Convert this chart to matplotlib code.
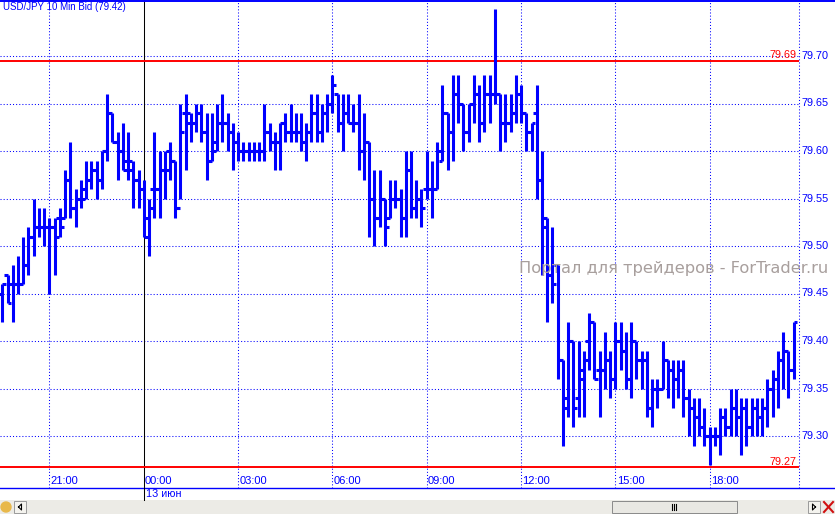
import matplotlib
matplotlib.use('Agg')
import matplotlib.pyplot as plt
from matplotlib.lines import Line2D
from matplotlib.patches import Rectangle

plt.rcParams['font.family'] = ['Liberation Sans', 'DejaVu Sans']

# USD/JPY 10 min bars (bid)
highs = [79.46, 79.47, 79.48, 79.49, 79.51, 79.52, 79.55, 79.54, 79.54, 79.53,
         79.53, 79.54, 79.58, 79.61, 79.56, 79.57, 79.59, 79.59, 79.59, 79.60,
         79.66, 79.64, 79.62, 79.63, 79.62, 79.59, 79.58, 79.57, 79.55, 79.62,
         79.60, 79.60, 79.61, 79.59, 79.65, 79.66, 79.64, 79.65, 79.65, 79.64,
         79.64, 79.65, 79.66, 79.64, 79.63, 79.62, 79.61, 79.61, 79.61, 79.61,
         79.65, 79.63, 79.62, 79.63, 79.64, 79.65, 79.64, 79.64, 79.63, 79.66,
         79.66, 79.65, 79.66, 79.68, 79.66, 79.66, 79.66, 79.65, 79.66, 79.64,
         79.61, 79.58, 79.58, 79.55, 79.57, 79.57, 79.56, 79.60, 79.60, 79.57,
         79.56, 79.60, 79.59, 79.61, 79.67, 79.64, 79.68, 79.68, 79.65, 79.65,
         79.68, 79.67, 79.68, 79.68, 79.75, 79.66, 79.66, 79.66, 79.68, 79.67,
         79.64, 79.63, 79.67, 79.60, 79.53, 79.52, 79.48, 79.38, 79.42, 79.40,
         79.40, 79.39, 79.43, 79.42, 79.39, 79.41, 79.39, 79.42, 79.42, 79.41,
         79.42, 79.40, 79.39, 79.39, 79.36, 79.36, 79.40, 79.38, 79.38, 79.38,
         79.38, 79.35, 79.34, 79.34, 79.33, 79.31, 79.31, 79.33, 79.33, 79.35,
         79.35, 79.34, 79.34, 79.34, 79.34, 79.34, 79.36, 79.37, 79.39, 79.41,
         79.39, 79.42]
lows = [79.42, 79.44, 79.42, 79.45, 79.46, 79.47, 79.49, 79.51, 79.50, 79.45,
        79.47, 79.51, 79.53, 79.53, 79.52, 79.54, 79.55, 79.56, 79.55, 79.56,
        79.59, 79.61, 79.57, 79.58, 79.57, 79.54, 79.54, 79.51, 79.49, 79.53,
        79.53, 79.55, 79.57, 79.53, 79.55, 79.58, 79.61, 79.62, 79.61, 79.57,
        79.59, 79.60, 79.61, 79.60, 79.58, 79.59, 79.59, 79.59, 79.59, 79.59,
        79.59, 79.60, 79.58, 79.58, 79.61, 79.61, 79.61, 79.60, 79.59, 79.61,
        79.61, 79.61, 79.62, 79.64, 79.62, 79.60, 79.63, 79.62, 79.58, 79.57,
        79.51, 79.50, 79.52, 79.50, 79.53, 79.54, 79.51, 79.51, 79.53, 79.53,
        79.52, 79.55, 79.53, 79.56, 79.59, 79.58, 79.59, 79.63, 79.60, 79.61,
        79.63, 79.61, 79.62, 79.63, 79.65, 79.60, 79.61, 79.62, 79.63, 79.63,
        79.60, 79.60, 79.55, 79.47, 79.42, 79.44, 79.36, 79.29, 79.32, 79.31,
        79.32, 79.32, 79.37, 79.36, 79.32, 79.35, 79.34, 79.35, 79.37, 79.35,
        79.34, 79.36, 79.35, 79.32, 79.31, 79.33, 79.35, 79.34, 79.33, 79.34,
        79.32, 79.30, 79.29, 79.30, 79.29, 79.27, 79.29, 79.28, 79.30, 79.30,
        79.30, 79.28, 79.29, 79.30, 79.30, 79.30, 79.31, 79.32, 79.33, 79.35,
        79.34, 79.36]
opens = [79.45, 79.47, 79.46, 79.46, 79.46, 79.48, 79.51, 79.52, 79.52, 79.52,
         79.52, 79.53, 79.53, 79.57, 79.54, 79.55, 79.56, 79.57, 79.58, 79.57,
         79.60, 79.64, 79.61, 79.60, 79.59, 79.58, 79.57, 79.56, 79.53, 79.56,
         79.56, 79.58, 79.60, 79.59, 79.54, 79.64, 79.63, 79.63, 79.64, 79.62,
         79.59, 79.61, 79.63, 79.63, 79.62, 79.61, 79.60, 79.60, 79.60, 79.60,
         79.60, 79.62, 79.61, 79.61, 79.63, 79.62, 79.62, 79.62, 79.61, 79.62,
         79.64, 79.62, 79.64, 79.65, 79.66, 79.63, 79.64, 79.63, 79.63, 79.60,
         79.61, 79.55, 79.53, 79.55, 79.53, 79.55, 79.55, 79.53, 79.58, 79.54,
         79.55, 79.56, 79.56, 79.56, 79.59, 79.64, 79.62, 79.66, 79.65, 79.62,
         79.65, 79.66, 79.63, 79.66, 79.66, 79.66, 79.63, 79.63, 79.64, 79.66,
         79.64, 79.62, 79.64, 79.57, 79.53, 79.47, 79.48, 79.38, 79.34, 79.40,
         79.34, 79.36, 79.40, 79.42, 79.37, 79.37, 79.38, 79.36, 79.40, 79.39,
         79.36, 79.40, 79.38, 79.38, 79.33, 79.35, 79.35, 79.38, 79.37, 79.36,
         79.37, 79.34, 79.33, 79.32, 79.31, 79.30, 79.30, 79.30, 79.32, 79.31,
         79.33, 79.32, 79.33, 79.31, 79.33, 79.32, 79.33, 79.35, 79.36, 79.38,
         79.39, 79.37]
closes = [79.46, 79.44, 79.46, 79.46, 79.48, 79.51, 79.52, 79.52, 79.52, 79.52,
          79.51, 79.52, 79.57, 79.54, 79.55, 79.55, 79.57, 79.58, 79.57, 79.60,
          79.64, 79.61, 79.60, 79.58, 79.59, 79.57, 79.56, 79.51, 79.54, 79.56,
          79.58, 79.58, 79.59, 79.54, 79.62, 79.64, 79.63, 79.64, 79.62, 79.59,
          79.60, 79.63, 79.63, 79.62, 79.61, 79.60, 79.60, 79.60, 79.60, 79.60,
          79.62, 79.61, 79.61, 79.63, 79.62, 79.62, 79.62, 79.61, 79.62, 79.64,
          79.62, 79.64, 79.65, 79.67, 79.63, 79.64, 79.63, 79.63, 79.60, 79.61,
          79.55, 79.53, 79.55, 79.52, 79.55, 79.55, 79.53, 79.58, 79.54, 79.55,
          79.54, 79.56, 79.56, 79.60, 79.64, 79.62, 79.66, 79.65, 79.62, 79.65,
          79.66, 79.63, 79.66, 79.66, 79.66, 79.63, 79.63, 79.64, 79.66, 79.64,
          79.62, 79.63, 79.57, 79.52, 79.47, 79.46, 79.38, 79.33, 79.40, 79.33,
          79.37, 79.38, 79.42, 79.36, 79.37, 79.38, 79.36, 79.40, 79.39, 79.36,
          79.40, 79.38, 79.38, 79.33, 79.35, 79.35, 79.38, 79.37, 79.36, 79.37,
          79.34, 79.33, 79.32, 79.31, 79.30, 79.30, 79.30, 79.32, 79.31, 79.33,
          79.32, 79.33, 79.31, 79.33, 79.32, 79.33, 79.35, 79.36, 79.38, 79.39,
          79.37, 79.42]

time_labels = ['21:00', '00:00', '03:00', '06:00', '09:00', '12:00', '15:00', '18:00']
time_bars = [9, 27, 45, 63, 81, 99, 117, 135]
day_bar = 27
day_label = '13 июн'
price_ticks = [79.30, 79.35, 79.40, 79.45, 79.50, 79.55, 79.60, 79.65, 79.70]
level_hi = 79.695
level_lo = 79.267
level_hi_label = '79.69'
level_lo_label = '79.27'
title = 'USD/JPY 10 Min Bid (79.42)'
watermark = 'Портал для трейдеров - ForTrader.ru'

BLUE = '#0000ff'
RED = '#ff0000'
W, H = 835, 514

fig = plt.figure(figsize=(W / 100, H / 100), dpi=100)
fig.patch.set_facecolor('white')

# main price panel: x 0..799 px, y 0..488 px
ax = fig.add_axes([0, (H - 488) / H, 799 / W, 488 / H])
ax.set_facecolor('white')
for s in ax.spines.values():
    s.set_visible(False)
ax.set_xticks([])
ax.set_yticks([])

px_per_bar = 5.24
ax.set_xlim(-2.3 / px_per_bar, (799 - 2.3) / px_per_bar)
ax.set_ylim(79.70 - 432 / 950, 79.70 + 56 / 950)

dot = (0, (1, 2))
for p in price_ticks:
    ax.axhline(p, color=BLUE, lw=0.75, ls=dot, zorder=1)
for b in time_bars:
    if b == day_bar:
        continue
    ax.axvline(b, color=BLUE, lw=0.75, ls=dot, zorder=1)
ax.axvline(day_bar, color='black', lw=0.75, zorder=1)

# support / resistance levels
ax.axhline(level_hi, color=RED, lw=1.4, zorder=2)
ax.axhline(level_lo, color=RED, lw=1.4, zorder=2)
ax.text(152.0 - 0.4, level_hi + 0.0008, level_hi_label, color=RED, fontsize=7.8,
        ha='right', va='bottom', zorder=3)
ax.text(152.0 - 0.4, level_lo + 0.0008, level_lo_label, color=RED, fontsize=7.8,
        ha='right', va='bottom', zorder=3)

# OHLC bars
x = list(range(len(highs)))
ax.vlines(x, lows, highs, color=BLUE, lw=2.2, zorder=4)
ax.hlines(opens, [i - 0.75 for i in x], x, color=BLUE, lw=2.2, zorder=4)
ax.hlines(closes, x, [i + 0.75 for i in x], color=BLUE, lw=2.2, zorder=4)

# time labels inside the bottom of the panel
tr = ax.get_xaxis_transform()
for b, lab in zip(time_bars, time_labels):
    ax.text(b + 0.25, 2 / 488, lab, transform=tr, color=BLUE, fontsize=8,
            ha='left', va='bottom', zorder=5)

# price axis labels on the right
for p in price_ticks:
    ypx = 56 + (79.70 - p) * 950
    fig.text(801 / W, 1 - ypx / H, '%.2f' % p, color=BLUE, fontsize=7.8,
             ha='left', va='center')

fig.add_artist(Line2D([799 / W, 799 / W], [1 - 488 / H, 1], color=BLUE, lw=0.75,
                      ls=dot, transform=fig.transFigure))
fig.add_artist(Line2D([0, 1], [1 - 0.5 / H, 1 - 0.5 / H], color=BLUE, lw=1.4,
                      transform=fig.transFigure))
fig.add_artist(Line2D([0, 1], [1 - 488 / H, 1 - 488 / H], color=BLUE, lw=1.0,
                      transform=fig.transFigure))
fig.add_artist(Line2D([144 / W, 144 / W], [1 - 500 / H, 1 - 488 / H], color='black',
                      lw=0.75, transform=fig.transFigure))

fig.text(3 / W, 1 - 7.5 / H, title, color=BLUE, fontsize=7, ha='left', va='center')
fig.text(146 / W, 1 - 494 / H, day_label, color=BLUE, fontsize=7.8, ha='left', va='center')
fig.text(519 / W, 1 - 268 / H, watermark, color='#a89f9d', fontsize=11.7,
         ha='left', va='center', family='DejaVu Sans')

# scrollbar strip
sb = fig.add_axes([0, 0, 1, 14 / H])
sb.set_xlim(0, W)
sb.set_ylim(0, 14)
sb.axis('off')
sb.add_patch(Rectangle((0, 0), W, 14, color='#ecebe6', zorder=0))
sb.add_patch(Rectangle((14, 1), 12, 12, facecolor='#f4f3ee', edgecolor='#9a9a9a', lw=0.7))
sb.add_patch(Rectangle((808, 1), 12, 12, facecolor='#f4f3ee', edgecolor='#9a9a9a', lw=0.7))
sb.add_patch(Rectangle((612, 1), 125, 12, facecolor='#e9e8e3', edgecolor='#8a8a8a', lw=0.7))
sb.plot([18.5, 21.5, 21.5, 18.5], [7, 10, 4, 7], color='black', lw=0.8)
sb.plot([815.5, 812.5, 812.5, 815.5], [7, 10, 4, 7], color='black', lw=0.8)
for gx in [672, 674, 676]:
    sb.plot([gx, gx], [4, 10], color='black', lw=0.8)
sb.add_patch(plt.Circle((6, 7), 5, color='#e8b84a'))
sb.plot([824, 833], [2, 12], color='#d01010', lw=1.5)
sb.plot([824, 833], [12, 2], color='#d01010', lw=1.5)

fig.savefig('out.png', dpi=100)
